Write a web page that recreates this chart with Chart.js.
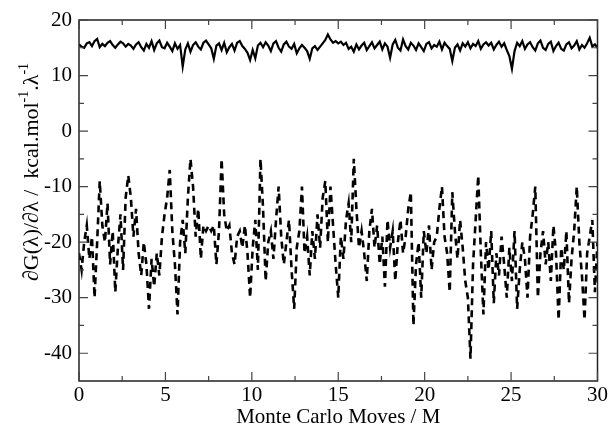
<!DOCTYPE html>
<html><head><meta charset="utf-8">
<script src="https://cdn.jsdelivr.net/npm/chart.js@4/dist/chart.umd.min.js"></script>
<style>html,body{margin:0;padding:0;background:#fff}#wrap{width:610px;height:425px}</style>
</head><body><div id="wrap"><canvas id="c" width="610" height="425"></canvas></div>
<script>
// sampling interval of the Monte Carlo moves axis (M)
const sampleStep = 0.15;

// upper (solid) series
const solidValues = [
15.6,15.2,15.0,15.8,16.0,15.3,16.2,16.6,15.1,15.7,
15.3,15.9,16.2,15.5,15.0,15.6,16.1,15.8,15.2,15.7,
15.4,14.8,15.6,16.0,15.1,14.5,15.7,15.0,16.2,14.6,
15.8,16.3,15.1,14.9,15.9,15.2,14.4,15.8,14.8,15.5,
11.6,14.7,15.8,14.3,15.5,16.0,15.2,14.7,15.9,16.3,
15.6,14.9,13.0,15.4,15.8,14.6,15.9,14.2,15.1,15.7,
14.5,15.9,16.2,15.3,14.8,14.1,12.8,14.6,13.1,15.4,
15.9,15.1,16.0,15.4,14.4,15.8,16.2,15.0,14.3,15.6,
16.1,15.2,14.8,15.7,14.0,14.9,15.5,15.0,14.4,13.0,
14.9,15.3,14.6,15.2,15.8,16.4,17.4,16.5,15.9,16.2,
15.8,16.1,15.5,15.9,14.8,15.2,14.3,15.6,14.7,15.4,
15.9,14.6,15.3,16.0,14.9,15.5,16.1,14.7,15.8,15.2,
13.2,15.6,16.4,15.0,14.5,16.5,15.3,14.7,15.9,15.4,
14.6,15.8,15.1,14.4,15.7,16.0,14.9,15.5,15.2,16.1,
14.7,15.9,15.3,14.8,12.6,15.0,15.6,14.5,15.8,15.2,
16.0,14.9,15.7,15.3,16.2,14.8,15.6,16.0,15.4,15.9,
14.7,15.5,16.1,15.2,15.8,14.6,13.5,11.2,14.4,15.9,
15.3,16.2,14.8,15.6,16.0,15.1,14.5,15.8,16.3,15.0,
14.6,15.7,16.1,14.4,15.3,15.9,14.8,14.5,15.6,16.0,
14.9,15.4,16.2,14.7,15.5,15.0,15.8,16.8,15.2,15.6,
15.0];

// lower (dashed) series
const dashedValues = [
-22,-25,-20,-17,-23,-19,-30,-20,-9,-17,
-20,-13,-24,-18,-29,-21,-15,-25,-12,-8,
-12,-19,-14,-22,-26,-20,-24,-32,-23,-28,
-22,-26,-19,-15,-12,-7,-18,-24,-33,-20,
-16,-22,-12,-5,-10,-19,-14,-23,-17,-18,
-17,-18,-17,-24,-18,-5,-15,-18,-17,-22,
-24,-19,-18,-21,-17,-22,-30,-21,-16,-25,
-5,-14,-27,-20,-18,-23,-16,-10,-19,-24,
-20,-16,-25,-32,-21,-18,-10,-22,-19,-26,
-18,-23,-15,-21,-12,-9,-20,-10,-17,-24,
-30,-19,-23,-16,-13,-20,-5,-14,-21,-18,
-22,-27,-18,-14,-21,-17,-24,-19,-28,-16,
-21,-18,-27,-20,-16,-22,-19,-14,-11,-35,
-24,-20,-30,-18,-22,-17,-25,-20,-19,-14,
-10,-19,-22,-29,-11,-18,-23,-16,-21,-27,
-30,-41,-24,-16,-8,-22,-33,-20,-25,-18,
-31,-22,-26,-19,-24,-30,-21,-27,-18,-32,
-25,-20,-23,-30,-19,-15,-10,-30,-22,-18,
-24,-20,-27,-17,-22,-34,-21,-25,-18,-31,
-23,-18,-10,-20,-26,-34,-22,-19,-16,-29,
-20];

const xMajorTicks = [0,5,10,15,20,25,30];
const xMinorTicks = [2.5,7.5,12.5,17.5,22.5,27.5];
const yMajorTicks = [-40,-30,-20,-10,0,10,20];
const yMinorTicks = [-35,-25,-15,-5,5,15];
const xTitle = 'Monte Carlo Moves / M';
const yTitleParts = [['∂G(λ)/∂λ /  kcal.mol',0],['-1',1],['.λ',0],['-1',1]];

const toPoints = vals => vals.map((v,i)=>({x:+(i*sampleStep).toFixed(2), y:v}));

const FONT = '"Liberation Serif","Times New Roman",serif';

const framePlugin = {
  id:'frame',
  afterDraw(chart){
    const ctx = chart.ctx, a = chart.chartArea, xs = chart.scales.x, ys = chart.scales.y;
    ctx.save();
    ctx.strokeStyle = '#222';
    ctx.lineWidth = 1.5;
    ctx.strokeRect(a.left, a.top, a.right-a.left, a.bottom-a.top);
    ctx.lineWidth = 1.2;
    ctx.strokeStyle = '#444';
    const tx = (v,len)=>{const p=xs.getPixelForValue(v);
      ctx.beginPath();ctx.moveTo(p,a.bottom);ctx.lineTo(p,a.bottom-len);
      ctx.moveTo(p,a.top);ctx.lineTo(p,a.top+len);ctx.stroke();};
    const ty = (v,len)=>{const p=ys.getPixelForValue(v);
      ctx.beginPath();ctx.moveTo(a.left,p);ctx.lineTo(a.left+len,p);
      ctx.moveTo(a.right,p);ctx.lineTo(a.right-len,p);ctx.stroke();};
    xMajorTicks.forEach(v=>tx(v,9)); xMinorTicks.forEach(v=>tx(v,5));
    yMajorTicks.forEach(v=>ty(v,9)); yMinorTicks.forEach(v=>ty(v,5));
    // x title
    ctx.fillStyle = '#000';
    ctx.font = '21px '+FONT;
    ctx.textAlign = 'center';
    ctx.textBaseline = 'alphabetic';
    ctx.fillText(xTitle, (a.left+a.right)/2, 423);
    // y title with superscripts
    const norm = '22px '+FONT, sup = '14px '+FONT;
    let total = 0;
    yTitleParts.forEach(([t,s])=>{ctx.font = s?sup:norm; total += ctx.measureText(t).width;});
    ctx.translate(31, 172);
    ctx.rotate(-Math.PI/2);
    ctx.textAlign = 'left';
    let u = -total/2;
    yTitleParts.forEach(([t,s])=>{ctx.font = s?sup:norm; ctx.fillText(t, u, s? -3 : 7); u += ctx.measureText(t).width;});
    ctx.restore();
  }
};

new Chart(document.getElementById('c'), {
  type:'line',
  data:{datasets:[
    {data:toPoints(solidValues), borderColor:'#000', borderWidth:2.2, pointRadius:0, tension:0, fill:false},
    {data:toPoints(dashedValues), borderColor:'#000', borderWidth:2.6, borderDash:[7,5], pointRadius:0, tension:0, fill:false}
  ]},
  options:{
    responsive:false, animation:false, devicePixelRatio:1,
    layout:{padding:{top:20,right:12,left:0,bottom:0}},
    plugins:{legend:{display:false}, tooltip:{enabled:false}},
    scales:{
      x:{type:'linear', min:0, max:30,
        afterBuildTicks:s=>{s.ticks = xMajorTicks.map(v=>({value:v}));},
        afterFit:s=>{s.height = 44;},
        grid:{display:false, drawTicks:false}, border:{display:false},
        ticks:{font:{family:FONT,size:21}, color:'#000', padding:2, maxRotation:0, autoSkip:false}},
      y:{type:'linear', min:-45, max:20,
        afterBuildTicks:s=>{s.ticks = yMajorTicks.map(v=>({value:v}));},
        afterFit:s=>{s.width = 79;},
        grid:{display:false, drawTicks:false}, border:{display:false},
        ticks:{font:{family:FONT,size:21}, color:'#000', padding:7, autoSkip:false}}
    }
  },
  plugins:[framePlugin]
});
</script>
</body></html>
